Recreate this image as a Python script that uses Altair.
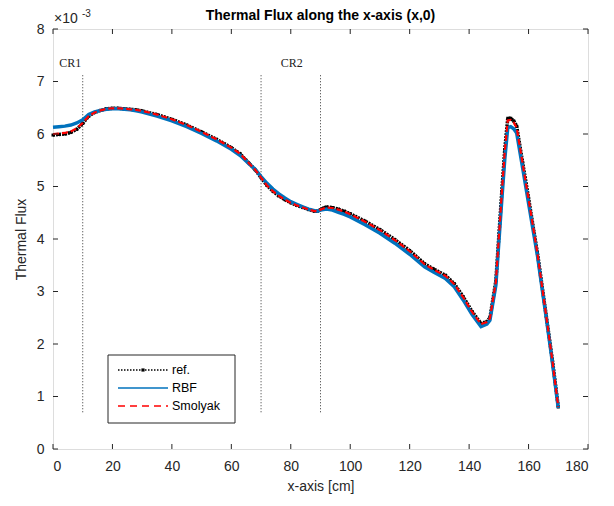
import altair as alt
import pandas as pd

x_cm = [0, 2, 4, 6, 8, 10, 12, 14, 16, 18, 20, 22, 24, 26, 28, 30,
        35, 40, 45, 50, 55, 60, 63, 66, 68,
        70, 72, 74, 76, 78, 80, 82, 84, 86, 88,
        89, 90, 91, 92, 94, 96, 98, 100,
        105, 110, 115, 120, 125, 128, 132, 135, 138, 141, 144,
        146, 147, 149, 151, 152, 153, 154, 155, 156,
        158, 160, 163, 166, 168, 170]

ref_vals = [5.98, 5.99, 6.00, 6.03, 6.09, 6.20, 6.34, 6.41, 6.45, 6.48, 6.49, 6.49, 6.48, 6.47, 6.46, 6.44,
            6.37, 6.28, 6.17, 6.04, 5.90, 5.74, 5.62, 5.44, 5.32,
            5.17, 5.02, 4.91, 4.82, 4.75, 4.69, 4.64, 4.60, 4.56, 4.53,
            4.53, 4.56, 4.59, 4.61, 4.60, 4.57, 4.53, 4.48,
            4.34, 4.18, 3.99, 3.78, 3.53, 3.43, 3.31, 3.15, 2.90, 2.62, 2.39,
            2.43, 2.50, 3.20, 4.90, 5.70, 6.30, 6.30, 6.25, 6.15,
            5.46, 4.78, 3.73, 2.52, 1.70, 0.80]

rbf_vals = [6.13, 6.14, 6.15, 6.17, 6.21, 6.27, 6.37, 6.42, 6.45, 6.47, 6.48, 6.48, 6.47, 6.46, 6.44, 6.42,
            6.34, 6.25, 6.14, 6.01, 5.87, 5.71, 5.59, 5.43, 5.33,
            5.19, 5.06, 4.95, 4.86, 4.78, 4.71, 4.66, 4.61, 4.57, 4.54,
            4.53, 4.55, 4.56, 4.57, 4.55, 4.51, 4.47, 4.42,
            4.27, 4.11, 3.92, 3.71, 3.47, 3.37, 3.25, 3.09, 2.84, 2.56, 2.33,
            2.38, 2.45, 3.12, 4.75, 5.52, 6.12, 6.14, 6.10, 6.02,
            5.36, 4.68, 3.68, 2.48, 1.66, 0.78]

smolyak_vals = [6.00, 6.01, 6.02, 6.05, 6.11, 6.21, 6.34, 6.41, 6.45, 6.48, 6.49, 6.49, 6.48, 6.47, 6.46, 6.44,
                6.37, 6.28, 6.17, 6.04, 5.90, 5.74, 5.62, 5.44, 5.32,
                5.17, 5.02, 4.91, 4.82, 4.75, 4.69, 4.64, 4.60, 4.56, 4.53,
                4.53, 4.56, 4.58, 4.60, 4.59, 4.56, 4.52, 4.47,
                4.33, 4.17, 3.98, 3.77, 3.52, 3.42, 3.30, 3.14, 2.89, 2.61, 2.38,
                2.42, 2.49, 3.18, 4.88, 5.68, 6.26, 6.27, 6.22, 6.12,
                5.44, 4.76, 3.72, 2.51, 1.69, 0.80]

series_names = ["ref.", "RBF", "Smolyak"]
series_colors = ["#000000", "#0072BD", "#FF0000"]

cr_x = [10, 70, 90]
cr_bottom = 0.7
cr_top = 7.12
cr_labels = ["CR1", "CR2"]
cr_label_x = [5.8, 80.3]
cr_label_y = [7.35, 7.35]

x_ticks = list(range(0, 181, 20))
y_ticks = list(range(0, 9))

W, H = 535, 420
FONT = "Liberation Sans"
TXT = "#262626"

xscale = alt.Scale(domain=[0, 180], nice=False, zero=False)
yscale = alt.Scale(domain=[0, 8], nice=False)

x_enc = alt.X("x:Q", scale=xscale,
              axis=alt.Axis(values=x_ticks, title="x-axis [cm]", ticks=False, domain=False,
                            grid=False, labelPadding=10, titlePadding=6, labelFontSize=14,
                            titleFontSize=14, titleFontWeight="normal", labelColor=TXT,
                            titleColor=TXT, labelFont=FONT, titleFont=FONT))
y_enc = alt.Y("y:Q", scale=yscale,
              axis=alt.Axis(values=y_ticks, title="Thermal Flux", ticks=False, domain=False,
                            grid=False, labelPadding=9, titlePadding=8, labelFontSize=14,
                            titleFontSize=14, titleFontWeight="normal", labelColor=TXT,
                            titleColor=TXT, labelFont=FONT, titleFont=FONT))


def series_df(vals):
    return pd.DataFrame({"x": x_cm, "y": vals})


ref_line = alt.Chart(series_df(ref_vals)).mark_line(
    strokeWidth=3.5, color=series_colors[0], strokeDash=[2, 1]).encode(x=x_enc, y=y_enc, order="x:Q")
ref_pts = alt.Chart(series_df(ref_vals)).mark_point(
    shape="square", filled=True, size=9, color="black", opacity=1).encode(x="x:Q", y="y:Q")
rbf_line = alt.Chart(series_df(rbf_vals)).mark_line(
    strokeWidth=3.5, color=series_colors[1]).encode(x="x:Q", y="y:Q", order="x:Q")
smol_line = alt.Chart(series_df(smolyak_vals)).mark_line(
    strokeWidth=2.2, color=series_colors[2], strokeDash=[6, 3]).encode(x="x:Q", y="y:Q", order="x:Q")

cr_df = pd.DataFrame({"x": cr_x, "y0": [cr_bottom] * len(cr_x), "y1": [cr_top] * len(cr_x)})
cr_rules = alt.Chart(cr_df).mark_rule(color="#333333", strokeWidth=1, strokeDash=[1, 2]).encode(
    x="x:Q", y="y0:Q", y2="y1:Q")

lab_df = pd.DataFrame({"x": cr_label_x, "y": cr_label_y, "t": cr_labels})
cr_text = alt.Chart(lab_df).mark_text(font="Liberation Serif", fontSize=12, color="#222222",
                                      baseline="middle").encode(x="x:Q", y="y:Q", text="t:N")

xt_df = pd.DataFrame({"x": x_ticks})
yt_df = pd.DataFrame({"y": y_ticks})
tick_style = dict(color=TXT, strokeWidth=1)
xt_bot = alt.Chart(xt_df).mark_rule(**tick_style).encode(x="x:Q", y=alt.value(H), y2=alt.value(H - 5))
xt_top = alt.Chart(xt_df).mark_rule(**tick_style).encode(x="x:Q", y=alt.value(0), y2=alt.value(5))
yt_left = alt.Chart(yt_df).mark_rule(**tick_style).encode(y="y:Q", x=alt.value(0), x2=alt.value(5))
yt_right = alt.Chart(yt_df).mark_rule(**tick_style).encode(y="y:Q", x=alt.value(W), x2=alt.value(W - 5))

one = pd.DataFrame({"t": [""]})


def text_at(s, x, y, size, weight="normal", align="left"):
    return alt.Chart(pd.DataFrame({"t": [s]})).mark_text(
        font=FONT, fontSize=size, fontWeight=weight, color=TXT if weight == "normal" else "black",
        align=align, baseline="alphabetic").encode(x=alt.value(x), y=alt.value(y), text="t:N")


exp_base = text_at("×10", 1, -6, 14)
exp_sup = text_at("-3", 29, -12, 10)
title = text_at("Thermal Flux along the x-axis (x,0)", W / 2, -9, 14, weight="bold", align="center")

# legend (manual, MATLAB style)
LX0, LX1, LY0, LY1 = 55, 182, 326, 394
row_y = [341, 359, 377]
sym_x0, sym_x1, lab_x = 65, 115, 119
leg_box = alt.Chart(one).mark_rect(fill="white", stroke=TXT, strokeWidth=1).encode(
    x=alt.value(LX0), x2=alt.value(LX1), y=alt.value(LY0), y2=alt.value(LY1))
leg_ref = alt.Chart(one).mark_rule(color="black", strokeWidth=1.5, strokeDash=[1.5, 1.5]).encode(
    x=alt.value(sym_x0), x2=alt.value(sym_x1), y=alt.value(row_y[0]))
leg_ref_pt = alt.Chart(one).mark_point(shape="square", filled=True, size=10, color="black", opacity=1).encode(
    x=alt.value((sym_x0 + sym_x1) / 2), y=alt.value(row_y[0]))
leg_rbf = alt.Chart(one).mark_rule(color=series_colors[1], strokeWidth=1.5).encode(
    x=alt.value(sym_x0), x2=alt.value(sym_x1), y=alt.value(row_y[1]))
leg_smol = alt.Chart(one).mark_rule(color=series_colors[2], strokeWidth=1.5, strokeDash=[7, 5]).encode(
    x=alt.value(sym_x0), x2=alt.value(sym_x1), y=alt.value(row_y[2]))
leg_labels = [
    alt.Chart(pd.DataFrame({"t": [n]})).mark_text(
        font=FONT, fontSize=12.5, color="black", align="left", baseline="middle").encode(
        x=alt.value(lab_x), y=alt.value(ry), text="t:N")
    for n, ry in zip(series_names, row_y)
]

chart = alt.layer(
    cr_rules, ref_line, ref_pts, rbf_line, smol_line, cr_text,
    xt_bot, xt_top, yt_left, yt_right, exp_base, exp_sup, title,
    leg_box, leg_ref, leg_ref_pt, leg_rbf, leg_smol, *leg_labels
).properties(
    width=W, height=H,
    autosize=alt.AutoSizeParams(type="none"),
    padding={"left": 45, "top": 21, "right": 18, "bottom": 49},
).configure_view(stroke=TXT, strokeWidth=1).configure(background="white")

chart.save("out.html", embed_options={"renderer": "svg", "actions": False})
